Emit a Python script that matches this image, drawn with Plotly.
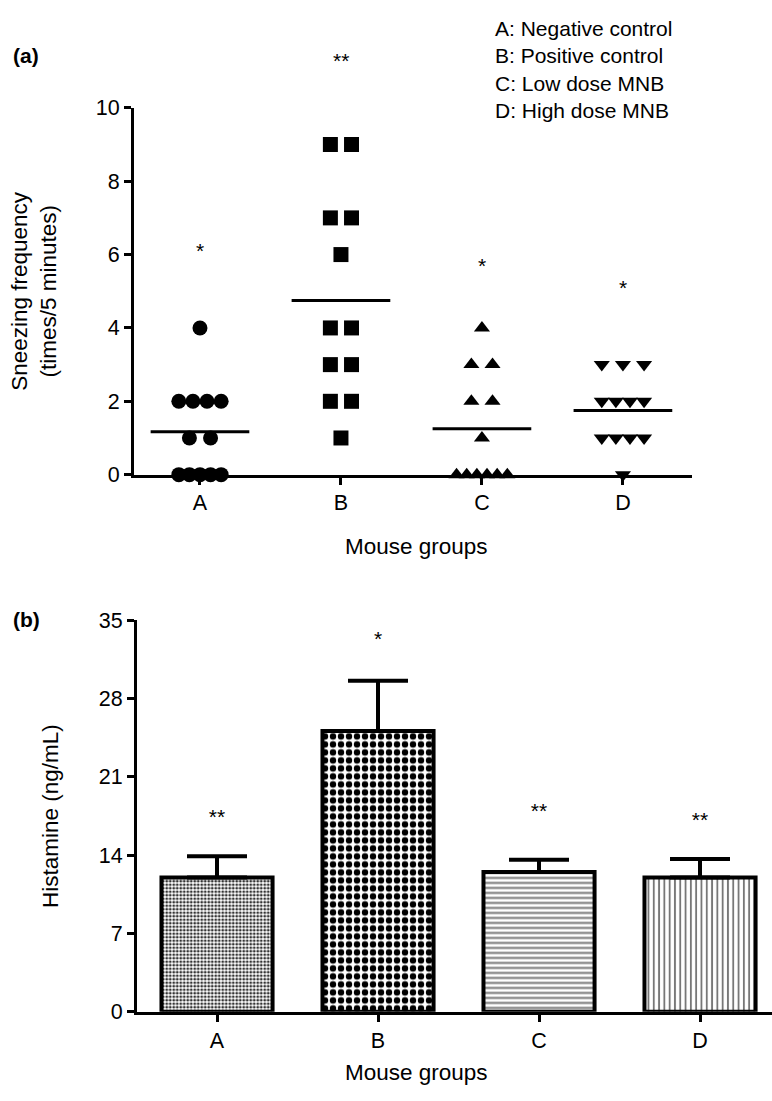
import numpy as np
import plotly.graph_objects as go

# ---------------- data ----------------
groups = ["A", "B", "C", "D"]
sneeze_A = [4, 2, 2, 2, 2, 1, 1, 0, 0, 0, 0, 0]
sneeze_B = [9, 9, 7, 7, 6, 4, 4, 3, 3, 2, 2, 1]
sneeze_C = [4, 3, 3, 2, 2, 1, 0, 0, 0, 0, 0, 0]
sneeze_D = [3, 3, 3, 2, 2, 2, 2, 1, 1, 1, 1, 0]
sneeze_sig = ["*", "**", "*", "*"]
sneeze_sig_y = [6.1, 11.3, 5.7, 5.1]
sneeze_ymax = 10

histamine_mean = [12.0, 25.1, 12.5, 12.0]
histamine_err = [1.9, 4.5, 1.1, 1.65]
histamine_sig = ["**", "*", "**", "**"]
histamine_sig_y = [17.3, 33.2, 17.8, 17.0]

legend_lines = ["A: Negative control", "B: Positive control",
                "C: Low dose MNB", "D: High dose MNB"]

# ---------------- helpers ----------------
W, H = 772, 1101
FONT = "Liberation Sans, Arial, sans-serif"
TICK_SIZE = 21.5
TITLE_SIZE = 22.5
TEXT_SIZE = 21


def fx(p):
    return p / W


def fy(p):
    return 1 - p / H


def spread(values, center):
    vals = np.array(values)
    xs, ys = [], []
    for v in sorted(set(values), reverse=True):
        n = int((vals == v).sum())
        step = 0.15 if n <= 3 else max(0.072, 0.3 / (n - 1))
        offs = (np.arange(n) - (n - 1) / 2) * step
        xs += list(center + offs)
        ys += [v] * n
    return xs, ys


fig = go.Figure()

# ---------------- panel (a) ----------------
series = [sneeze_A, sneeze_B, sneeze_C, sneeze_D]
symbols = ["circle", "square", "triangle-up", "triangle-down"]
sizes = [15, 15, 14, 14]
for i, (data, sym, sz) in enumerate(zip(series, symbols, sizes)):
    xs, ys = spread(data, i)
    fig.add_trace(go.Scatter(
        x=xs, y=ys, mode="markers", xaxis="x", yaxis="y",
        marker=dict(symbol=sym, size=sz, color="black", line=dict(width=0)),
        cliponaxis=False, showlegend=False, hoverinfo="skip"))
    m = float(np.mean(data))
    fig.add_trace(go.Scatter(
        x=[i - 0.35, i + 0.35], y=[m, m], mode="lines", xaxis="x", yaxis="y",
        line=dict(color="black", width=3), cliponaxis=False,
        showlegend=False, hoverinfo="skip"))

# ---------------- panel (b) ----------------
fig.add_trace(go.Bar(
    x=list(range(4)), y=histamine_mean, width=0.69, xaxis="x2", yaxis="y2",
    marker=dict(
        color="white",
        line=dict(color="black", width=4),
        pattern=dict(
            shape=[".", ".", "-", "|"],
            size=[3.5, 8, 5, 5.3],
            solidity=[0.5, 0.5, 0.4, 0.35],
            fgcolor=["#333333", "black", "#777777", "#777777"],
            bgcolor="white",
            fillmode="replace")),
    error_y=dict(type="data", array=histamine_err, symmetric=False,
                 arrayminus=[0, 0, 0, 0], color="black", thickness=4, width=30),
    showlegend=False, hoverinfo="skip"))

fig.add_trace(go.Scatter(
    x=list(range(4)), y=histamine_sig_y, text=histamine_sig, mode="text",
    xaxis="x2", yaxis="y2",
    textfont=dict(size=TEXT_SIZE, color="black", family=FONT),
    cliponaxis=False, showlegend=False, hoverinfo="skip"))

axis_common = dict(showline=True, linecolor="black", linewidth=3,
                   ticks="outside", ticklen=7, tickwidth=3, tickcolor="black",
                   showgrid=False, zeroline=False,
                   tickfont=dict(size=TICK_SIZE, color="black", family=FONT))

fig.update_layout(
    width=W, height=H, autosize=False,
    margin=dict(l=0, r=0, t=0, b=0),
    paper_bgcolor="white", plot_bgcolor="white",
    font=dict(family=FONT, size=TEXT_SIZE, color="black"),
    xaxis=dict(domain=[fx(134), fx(692)], range=[-0.468, 3.49],
               tickvals=list(range(4)), ticktext=groups, anchor="y",
               **axis_common),
    yaxis=dict(domain=[fy(474), fy(99)], range=[0, sneeze_ymax], dtick=2,
               anchor="x", **axis_common),
    xaxis2=dict(domain=[fx(137), 1.0], range=[-0.497, 3.447],
                tickvals=list(range(4)), ticktext=groups, anchor="y2",
                **axis_common),
    yaxis2=dict(domain=[fy(1023), fy(623)], range=[0, 35], dtick=7,
                anchor="x2", **axis_common),
)

ann = []
# significance marks of panel (a) (some lie above the axis range)
for i, (s, v) in enumerate(zip(sneeze_sig, sneeze_sig_y)):
    ann.append(dict(text=s, x=i, y=v / sneeze_ymax, xref="x", yref="y domain",
                    xanchor="center", yanchor="middle", showarrow=False,
                    font=dict(size=TEXT_SIZE, family=FONT, color="black")))

for lab, yy in (("<b>(a)</b>", 45), ("<b>(b)</b>", 622)):
    ann.append(dict(text=lab, x=fx(11), y=fy(yy), xref="paper", yref="paper",
                    xanchor="left", yanchor="middle", showarrow=False,
                    font=dict(size=TEXT_SIZE, family=FONT, color="black")))

for k, line in enumerate(legend_lines):
    ann.append(dict(text=line, x=fx(493), y=fy(18 + 28 * k), xref="paper",
                    yref="paper", xanchor="left", yanchor="middle",
                    showarrow=False,
                    font=dict(size=TEXT_SIZE, family=FONT, color="black")))

ann.append(dict(text="Sneezing frequency<br>(times/5 minutes)", textangle=-90,
                x=fx(34), y=fy(286), xref="paper", yref="paper",
                xanchor="center", yanchor="middle", showarrow=False,
                font=dict(size=TITLE_SIZE, family=FONT, color="black")))
ann.append(dict(text="Histamine (ng/mL)", textangle=-90,
                x=fx(50), y=fy(823), xref="paper", yref="paper",
                xanchor="center", yanchor="middle", showarrow=False,
                font=dict(size=TITLE_SIZE, family=FONT, color="black")))
for yy in (547, 1085):
    ann.append(dict(text="Mouse groups", x=fx(416), y=fy(yy), xref="paper",
                    yref="paper", xanchor="center", yanchor="middle",
                    showarrow=False,
                    font=dict(size=TITLE_SIZE, family=FONT, color="black")))

fig.update_layout(annotations=ann)

fig.write_html("out.html")
